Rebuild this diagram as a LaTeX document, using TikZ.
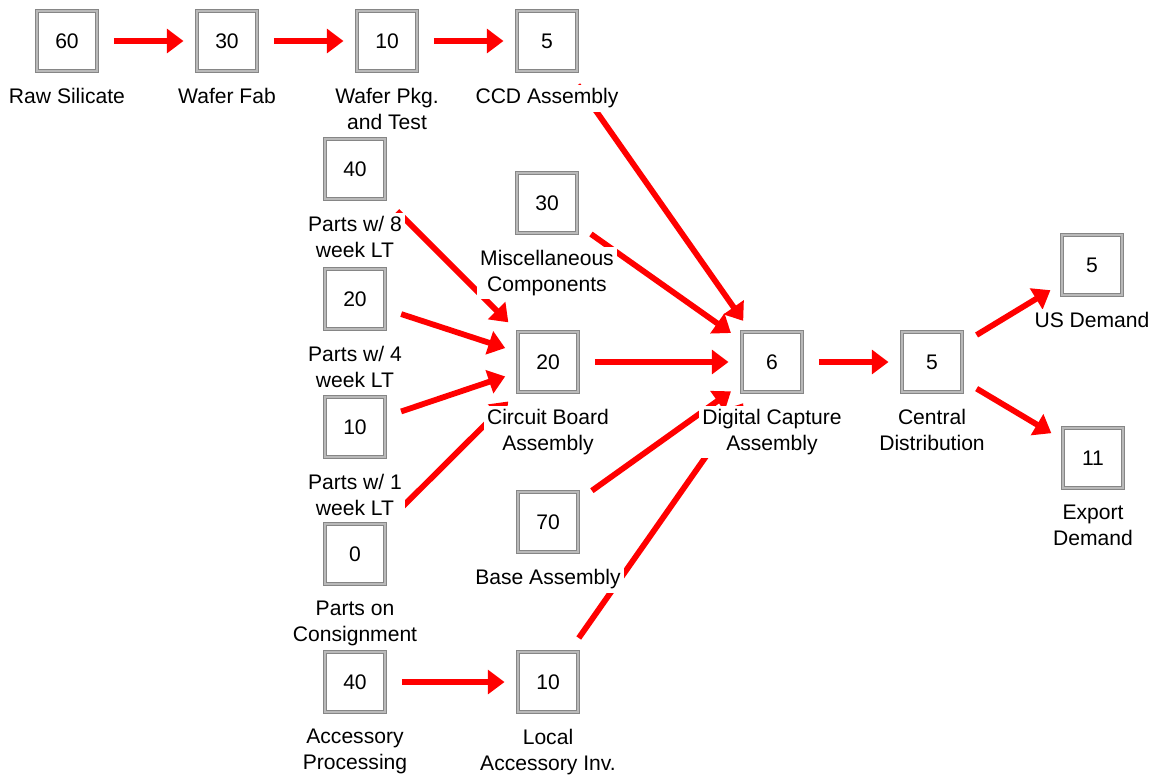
\documentclass[tikz,border=0pt]{standalone}
\usepackage{fontspec}
\setmainfont{Liberation Sans}
\usetikzlibrary{positioning,arrows.meta,backgrounds}

\begin{document}
\begin{tikzpicture}[x=0.02cm, y=-0.02cm, font={\fontsize{12}{14.7}\selectfont}]
\tikzstyle{box}=[draw=gray!95, line width=0.55pt, double=gray!55, double distance=0.7pt, fill=white, minimum size=1.2cm, inner sep=0pt]
\tikzstyle{lbl}=[fill=white, align=center, inner sep=2pt]
\tikzstyle{flow}=[red, line width=3.3pt, -{Triangle[length=9.5pt,width=13.5pt]}, shorten <=0.33cm, shorten >=0.26cm]

\useasboundingbox (0,0) rectangle (1157,775);

\foreach \n/\x/\y/\v/\t in {raw/67/41/60/{Raw Silicate}, fab/227/41/30/{Wafer Fab},
  pkg/387/41/10/{Wafer Pkg.\\and Test}, ccd/547/41/5/{CCD Assembly},
  pe/355/169/40/{Parts w/ 8\\week LT}, misc/547/203/30/{Miscellaneous\\Components},
  pf/355/299/20/{Parts w/ 4\\week LT}, cba/548/362/20/{Circuit Board\\Assembly},
  po/355/427/10/{Parts w/ 1\\week LT}, cons/355/554/0/{Parts on\\Consignment},
  base/548/522/70/{Base Assembly}, acc/355/682/40/{Accessory\\Processing},
  loc/548/682/10/{Local\\Accessory Inv.}, dca/772/362/6/{Digital Capture\\Assembly},
  cd/932/362/5/{Central\\Distribution}, us/1092/265/5/{US Demand},
  exp/1093/458/11/{Export\\Demand}} {
\node[box] (\n) at (\x,\y) {\v};
\node[lbl, below=0.26cm of \n] (l\n) {\t};
}

\begin{scope}[on background layer]
\foreach \a/\b in {raw/fab, fab/pkg, pkg/ccd, ccd/dca, pe/cba, misc/dca, pf/cba,
  po/cba, cons/cba, cba/dca, base/dca, loc/dca, acc/loc, dca/cd, cd/us, cd/exp}
  \draw[flow] (\a) -- (\b);
\end{scope}
\end{tikzpicture}
\end{document}
